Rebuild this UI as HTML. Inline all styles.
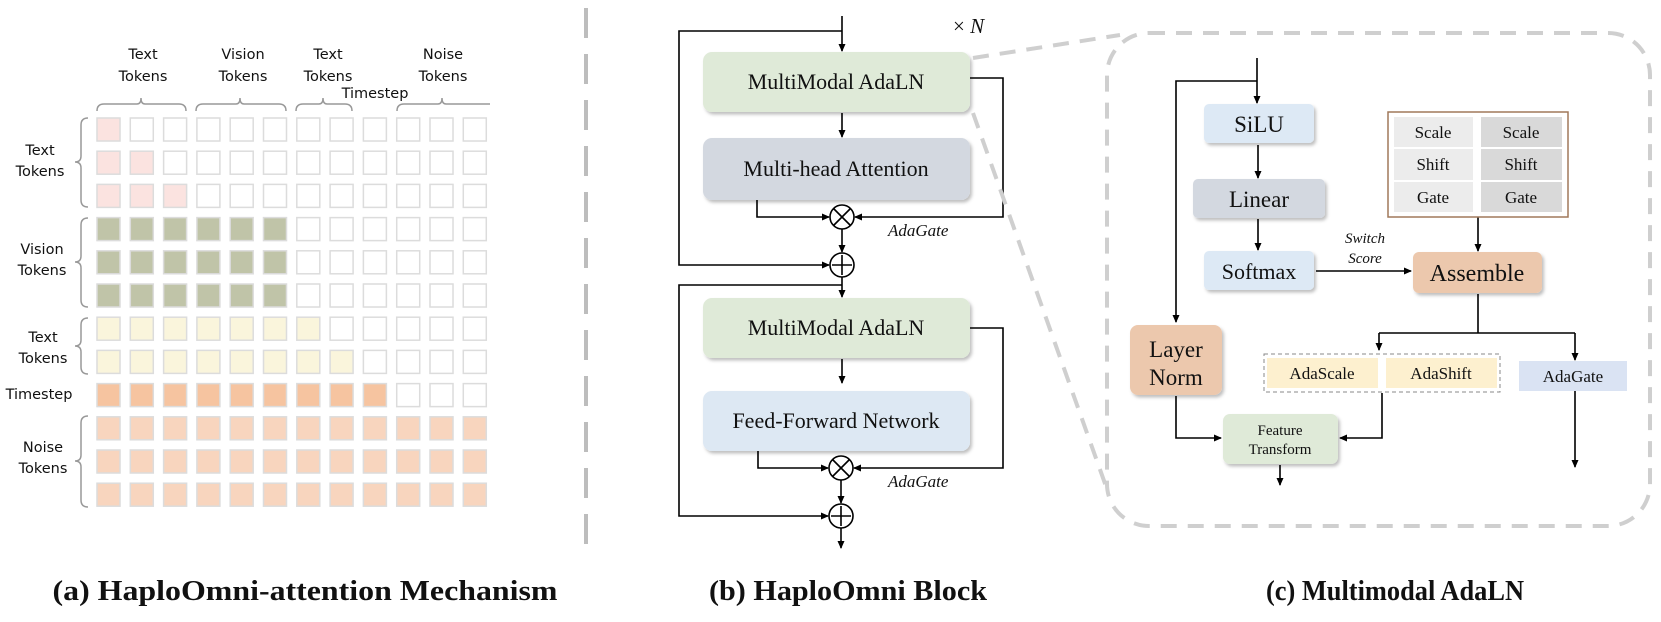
<!DOCTYPE html>
<html><head><meta charset="utf-8"><style>
html,body{margin:0;padding:0;background:#fff;}
svg{display:block;}
.hand{font-family:"DejaVu Sans","Liberation Sans",sans-serif;font-size:14.5px;fill:#111;}
.tm{font-family:"Liberation Serif",serif;fill:#111;}
</style></head><body>
<svg width="1661" height="622" viewBox="0 0 1661 622" xmlns="http://www.w3.org/2000/svg">
<defs>
<marker id="ar" markerWidth="8" markerHeight="8" refX="7" refY="4" orient="auto" markerUnits="userSpaceOnUse">
<path d="M0,0.5 L8,4 L0,7.5 z" fill="#000"/></marker>
<filter id="sh" x="-10%" y="-10%" width="130%" height="140%"><feDropShadow dx="2" dy="2.5" stdDeviation="1.5" flood-color="#000" flood-opacity="0.25"/></filter>
</defs>

<!-- Panel (a) -->
<g id="grid"></g>
<script>
(function(){
var g=document.getElementById('grid');var ns='http://www.w3.org/2000/svg';
for(var r=0;r<12;r++)for(var c=0;c<12;c++){
 var f='#fff';
 if(r<3){if(c<=r)f='#fbe3e0';}
 else if(r<6){if(c<6)f='#c0c4a8';}
 else if(r<8){if(c<=r)f='#faf5dc';}
 else if(r==8){if(c<9)f='#f6c4a0';}
 else f='#f8d5be';
 var e=document.createElementNS(ns,'rect');
 e.setAttribute('x',97+c*33.3);e.setAttribute('y',118+r*33.2);
 e.setAttribute('width',23);e.setAttribute('height',23);
 e.setAttribute('fill',f);e.setAttribute('stroke','#dcdcdc');e.setAttribute('stroke-width','1.5');
 g.appendChild(e);}
})();
</script>
<g fill="none" stroke="#999" stroke-width="1.5">
<path d="M97,111 Q97,104 104,104 L137,104 Q141,104 141,98 Q141,104 145,104 L179,104 Q186,104 186,111"/>
<path d="M196,111 Q196,104 203,104 L236,104 Q240,104 240,98 Q240,104 244,104 L279,104 Q286,104 286,111"/>
<path d="M296,111 Q296,104 303,104 L319,104 Q323,104 323,98 Q323,104 327,104 L345,104 Q352,104 352,111"/>
<path d="M397,111 Q397,104 404,104 L438,104 Q442,104 442,98 Q442,104 446,104 L490,104"/>
<path d="M88,118 Q81,118 81,125 L81,156 Q81,162 75,162 Q81,162 81,168 L81,200 Q81,207 88,207"/>
<path d="M88,218 Q81,218 81,225 L81,256 Q81,262 75,262 Q81,262 81,268 L81,300 Q81,307 88,307"/>
<path d="M88,318 Q81,318 81,325 L81,340 Q81,346 75,346 Q81,346 81,352 L81,367 Q81,374 88,374"/>
<path d="M88,416 Q81,416 81,423 L81,455 Q81,461 75,461 Q81,461 81,467 L81,500 Q81,507 88,507"/>
</g>
<g class="hand" text-anchor="middle">
<text x="143" y="59">Text</text><text x="143" y="81">Tokens</text>
<text x="243" y="59">Vision</text><text x="243" y="81">Tokens</text>
<text x="328" y="59">Text</text><text x="328" y="81">Tokens</text>
<text x="443" y="59">Noise</text><text x="443" y="81">Tokens</text>
<text x="375" y="98">Timestep</text>
<text x="40" y="155">Text</text><text x="40" y="176">Tokens</text>
<text x="42" y="254">Vision</text><text x="42" y="275">Tokens</text>
<text x="43" y="342">Text</text><text x="43" y="363">Tokens</text>
<text x="39" y="399">Timestep</text>
<text x="43" y="452">Noise</text><text x="43" y="473">Tokens</text>
</g>

<!-- separator -->
<line x1="586" y1="8" x2="586" y2="552" stroke="#bdbdbd" stroke-width="4" stroke-dasharray="30,16"/>

<!-- Panel (b) -->
<g stroke="#000" stroke-width="1.6" fill="none">
<line x1="842" y1="16" x2="842" y2="51" marker-end="url(#ar)"/>
<polyline points="842,31 679,31 679,265 829,265" marker-end="url(#ar)"/>
<line x1="842" y1="113" x2="842" y2="137" marker-end="url(#ar)"/>
<polyline points="757,200 757,217 829,217" marker-end="url(#ar)"/>
<polyline points="970,78 1003,78 1003,217 855,217" marker-end="url(#ar)"/>
<line x1="842" y1="229" x2="842" y2="252" marker-end="url(#ar)"/>
<line x1="842" y1="277" x2="842" y2="297" marker-end="url(#ar)"/>
<polyline points="842,285 679,285 679,516 828,516" marker-end="url(#ar)"/>
<line x1="842" y1="359" x2="842" y2="383" marker-end="url(#ar)"/>
<polyline points="758,451 758,468 828,468" marker-end="url(#ar)"/>
<polyline points="970,328 1003,328 1003,468 854,468" marker-end="url(#ar)"/>
<line x1="841" y1="480" x2="841" y2="503" marker-end="url(#ar)"/>
<line x1="841" y1="528" x2="841" y2="548" marker-end="url(#ar)"/>
<circle cx="842" cy="217" r="12"/><path d="M834,209 L850,225 M850,209 L834,225"/>
<circle cx="842" cy="265" r="12"/><path d="M842,255 L842,275 M832,265 L852,265"/>
<circle cx="841" cy="468" r="12"/><path d="M833,460 L849,476 M849,460 L833,476"/>
<circle cx="841" cy="516" r="12"/><path d="M841,506 L841,526 M831,516 L851,516"/>
</g>
<g filter="url(#sh)">
<rect x="703" y="52" width="267" height="60" rx="9" fill="#dfead8"/>
<rect x="703" y="138" width="267" height="62" rx="9" fill="#d3d8e0"/>
<rect x="703" y="298" width="267" height="60" rx="9" fill="#dfead8"/>
<rect x="703" y="391" width="267" height="60" rx="9" fill="#dde8f3"/>
</g>
<g class="tm" font-size="22" text-anchor="middle">
<text x="836" y="89">MultiModal AdaLN</text>
<text x="836" y="176">Multi-head Attention</text>
<text x="836" y="335">MultiModal AdaLN</text>
<text x="836" y="428">Feed-Forward Network</text>
</g>
<g class="tm" font-size="17" font-style="italic">
<text x="888" y="236">AdaGate</text><text x="888" y="487">AdaGate</text>
</g>
<text class="tm" x="953" y="33" font-size="21">× <tspan font-style="italic">N</tspan></text>

<!-- Panel (c) -->
<g fill="none" stroke="#cfcfcf" stroke-width="4" stroke-dasharray="16,11">
<rect x="1107" y="33" width="543" height="493" rx="42"/>
<line x1="973" y1="58" x2="1120" y2="35"/>
<line x1="973" y1="113" x2="1108" y2="492"/>
</g>
<g stroke="#000" stroke-width="1.6" fill="none">
<line x1="1257" y1="58" x2="1257" y2="103" marker-end="url(#ar)"/>
<polyline points="1257,81 1176,81 1176,322" marker-end="url(#ar)"/>
<line x1="1258" y1="145" x2="1258" y2="178" marker-end="url(#ar)"/>
<line x1="1258" y1="219" x2="1258" y2="250" marker-end="url(#ar)"/>
<line x1="1316" y1="271" x2="1411" y2="271" marker-end="url(#ar)"/>
<line x1="1478" y1="217" x2="1478" y2="251" marker-end="url(#ar)"/>
<line x1="1478" y1="294" x2="1478" y2="333"/>
<polyline points="1379,333 1575,333"/>
<line x1="1379" y1="333" x2="1379" y2="350" marker-end="url(#ar)"/>
<line x1="1575" y1="333" x2="1575" y2="360" marker-end="url(#ar)"/>
<line x1="1575" y1="391" x2="1575" y2="467" marker-end="url(#ar)"/>
<polyline points="1176,396 1176,438 1221,438" marker-end="url(#ar)"/>
<polyline points="1382,393 1382,438 1340,438" marker-end="url(#ar)"/>
<line x1="1280" y1="465" x2="1280" y2="485" marker-end="url(#ar)"/>
</g>
<g filter="url(#sh)">
<rect x="1204" y="104" width="110" height="39" rx="5" fill="#dde9f5"/>
<rect x="1193" y="179" width="132" height="39" rx="5" fill="#d3d8e0"/>
<rect x="1204" y="251" width="110" height="39" rx="5" fill="#dde9f5"/>
<rect x="1413" y="252" width="129" height="41" rx="6" fill="#ecc8ad"/>
<rect x="1130" y="325" width="92" height="70" rx="8" fill="#ecc8ad"/>
<rect x="1223" y="414" width="115" height="50" rx="7" fill="#dfead8"/>
</g>
<rect x="1388" y="112" width="180" height="105" fill="#fff" stroke="#a0785a" stroke-width="1.5"/>
<g fill="#ececec"><rect x="1394" y="117" width="79" height="30"/><rect x="1394" y="149" width="79" height="31"/><rect x="1394" y="182" width="79" height="30"/></g>
<g fill="#d9d9d9"><rect x="1481" y="117" width="81" height="30"/><rect x="1481" y="149" width="81" height="31"/><rect x="1481" y="182" width="81" height="30"/></g>
<rect x="1264" y="354" width="236" height="38" fill="none" stroke="#888" stroke-width="1" stroke-dasharray="4,3"/>
<rect x="1267" y="358" width="111" height="30" fill="#fdf0cf"/>
<rect x="1386" y="358" width="111" height="30" fill="#fdf0cf"/>
<rect x="1519" y="361" width="108" height="30" fill="#dae3f3"/>
<g class="tm" text-anchor="middle">
<text x="1259" y="132" font-size="23">SiLU</text>
<text x="1259" y="207" font-size="23">Linear</text>
<text x="1259" y="279" font-size="22">Softmax</text>
<text x="1477" y="281" font-size="24">Assemble</text>
<text x="1176" y="357" font-size="23">Layer</text>
<text x="1176" y="385" font-size="23">Norm</text>
<text x="1280" y="435" font-size="15">Feature</text>
<text x="1280" y="454" font-size="15">Transform</text>
<text x="1433" y="138" font-size="17">Scale</text><text x="1521" y="138" font-size="17">Scale</text>
<text x="1433" y="170" font-size="17">Shift</text><text x="1521" y="170" font-size="17">Shift</text>
<text x="1433" y="203" font-size="17">Gate</text><text x="1521" y="203" font-size="17">Gate</text>
<text x="1322" y="379" font-size="17">AdaScale</text>
<text x="1441" y="379" font-size="17">AdaShift</text>
<text x="1573" y="382" font-size="17">AdaGate</text>
<text x="1365" y="243" font-size="15" font-style="italic">Switch</text>
<text x="1365" y="263" font-size="15" font-style="italic">Score</text>
</g>

<!-- captions -->
<g class="tm" font-size="28" font-weight="bold" text-anchor="middle">
<text x="305" y="600" textLength="505" lengthAdjust="spacingAndGlyphs">(a) HaploOmni-attention Mechanism</text>
<text x="848" y="600" textLength="278" lengthAdjust="spacingAndGlyphs">(b) HaploOmni Block</text>
<text x="1395" y="600" textLength="258" lengthAdjust="spacingAndGlyphs">(c) Multimodal AdaLN</text>
</g>
</svg>
</body></html>
